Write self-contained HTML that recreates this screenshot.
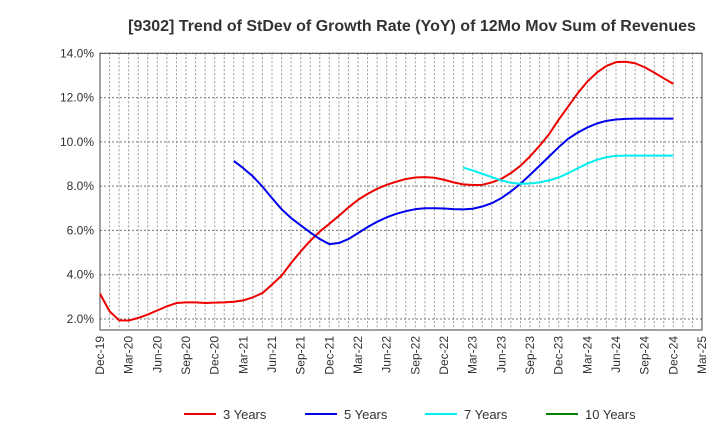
<!DOCTYPE html>
<html><head><meta charset="utf-8"><style>
body{margin:0;background:#fff;font-family:"Liberation Sans",sans-serif}
</style></head><body>
<svg width="720" height="440" xmlns="http://www.w3.org/2000/svg" font-family="Liberation Sans, sans-serif">
<text x="412" y="31" text-anchor="middle" font-size="16" font-weight="bold" fill="#333">[9302]  Trend of StDev of Growth Rate (YoY) of 12Mo Mov Sum of Revenues</text>
<g id="grid"></g>
<g id="axes"></g>
<g id="series"></g>
<g id="legend"></g>
</svg>
<script>
const yTicks=[2,4,6,8,10,12,14];
const xLabels=["Dec-19","Mar-20","Jun-20","Sep-20","Dec-20","Mar-21","Jun-21","Sep-21","Dec-21","Mar-22","Jun-22","Sep-22","Dec-22","Mar-23","Jun-23","Sep-23","Dec-23","Mar-24","Jun-24","Sep-24","Dec-24","Mar-25"];
const s3=[3.14,2.35,1.94,1.93,2.05,2.2,2.39,2.57,2.72,2.75,2.75,2.72,2.74,2.75,2.78,2.84,2.98,3.17,3.55,3.96,4.53,5.05,5.53,5.95,6.3,6.66,7.04,7.38,7.65,7.88,8.06,8.2,8.32,8.39,8.41,8.38,8.29,8.17,8.08,8.05,8.06,8.17,8.33,8.59,8.92,9.34,9.82,10.35,11.0,11.6,12.2,12.72,13.13,13.43,13.6,13.62,13.55,13.37,13.13,12.87,12.62];
const s5start=14;
const s5=[9.14,8.81,8.44,7.98,7.46,6.96,6.56,6.23,5.91,5.61,5.38,5.43,5.61,5.88,6.15,6.39,6.59,6.75,6.87,6.96,7.0,7.0,6.99,6.96,6.95,6.98,7.08,7.23,7.46,7.76,8.11,8.51,8.92,9.34,9.76,10.14,10.42,10.65,10.83,10.95,11.01,11.04,11.05,11.05,11.05,11.05,11.05];
const s7start=38;
const s7=[8.84,8.71,8.56,8.41,8.26,8.15,8.11,8.12,8.17,8.26,8.39,8.59,8.81,9.02,9.19,9.31,9.37,9.38,9.38,9.38,9.38,9.38,9.38];
const s10=[];
const L=100,R=702,T=53.3,B=330,NM=63;
const pxPer=(319-53.3)/12;
function y(v){return 53.3+(14-v)*pxPer;}
function x(m){return L+(R-L)*m/NM;}
const NS="http://www.w3.org/2000/svg";
function mk(tag,attrs,parent){const e=document.createElementNS(NS,tag);for(const k in attrs)e.setAttribute(k,attrs[k]);parent.appendChild(e);return e;}
const grid=document.getElementById('grid'),axes=document.getElementById('axes'),ser=document.getElementById('series'),leg=document.getElementById('legend');
for(let m=1;m<NM;m++){const l=mk('line',{x1:x(m),x2:x(m),y1:T,y2:B,stroke:'#999','stroke-dasharray':'2,2','stroke-width':1},grid);

}
yTicks.forEach(v=>{const l=mk('line',{x1:L,x2:R,y1:y(v),y2:y(v),stroke:'#777','stroke-dasharray':'2,2','stroke-width':1},grid);


const t=mk('text',{x:L-6,y:y(v)+4,'text-anchor':'end','font-size':12,fill:'#333'},axes);t.textContent=v.toFixed(1)+'%';

});
const box=mk('rect',{x:L,y:T,width:R-L,height:B-T,fill:'none',stroke:'#444','stroke-width':1},axes);


xLabels.forEach((s,i)=>{const xx=x(i*3);const t=mk('text',{x:0,y:0,transform:`translate(${xx+4},${B+6}) rotate(-90)`,'text-anchor':'end','font-size':12,fill:'#333'},axes);t.textContent=s;

});
function line(arr,start,col,name){if(!arr.length)return;const p=mk('polyline',{points:arr.map((v,i)=>x(start+i)+','+y(v)).join(' '),fill:'none',stroke:col,'stroke-width':2,'stroke-linejoin':'round'},ser);

}
line(s3,0,'#ee0000','line-3-years');
line(s5,s5start,'#0000ee','line-5-years');
line(s7,s7start,'#00eeee','line-7-years');
line(s10,0,'#008000','line-10-years');
const items=[['3 Years','#ee0000',184],['5 Years','#0000ee',305],['7 Years','#00eeee',425],['10 Years','#008000',546]];
items.forEach(([n,c,lx])=>{const g=mk('g',{},leg);


mk('line',{x1:lx,x2:lx+32,y1:414,y2:414,stroke:c,'stroke-width':2},g);
const t=mk('text',{x:lx+39,y:419,'font-size':13,fill:'#333'},g);t.textContent=n;});
</script>
</body></html>
